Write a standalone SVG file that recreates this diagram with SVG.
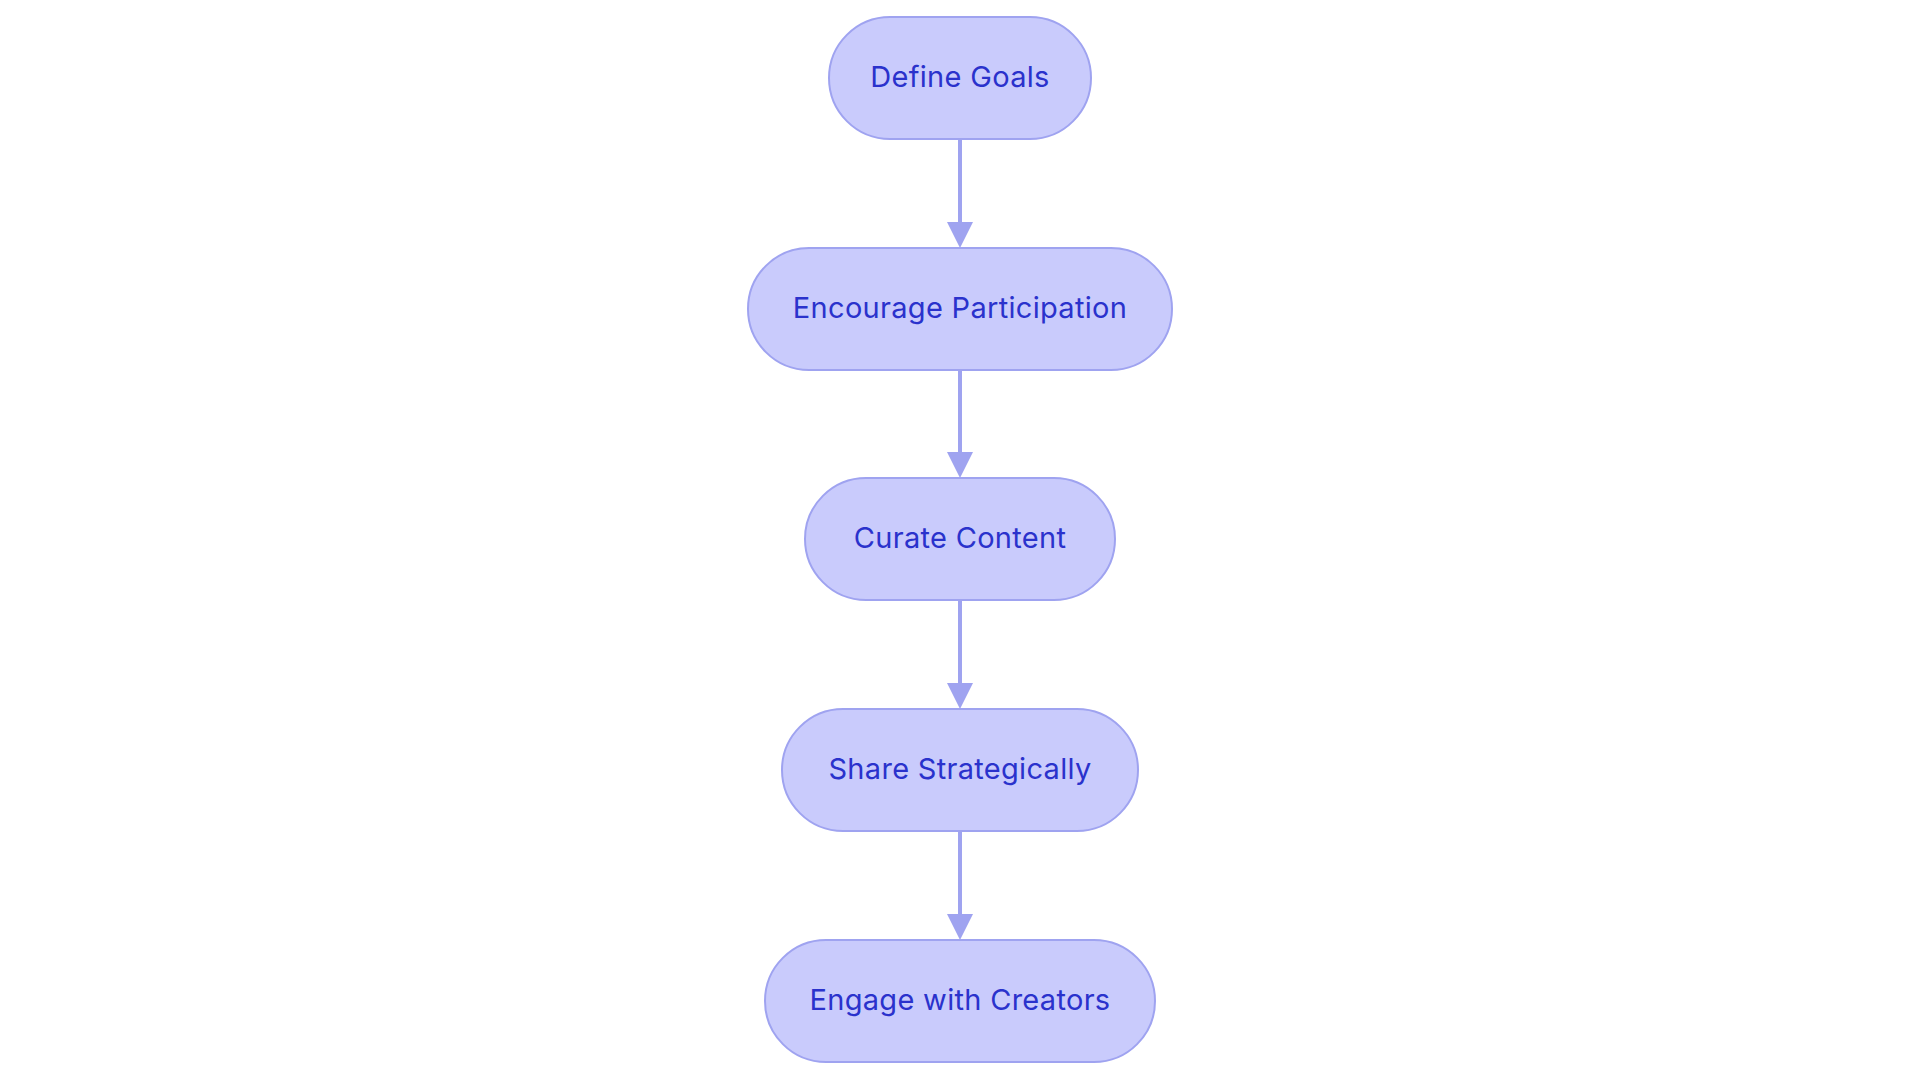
<svg xmlns="http://www.w3.org/2000/svg" width="1920" height="1083" viewBox="0 0 1920 1083">
<style>
.node rect{fill:#C9CBFC;stroke:#9FA3F0;stroke-width:2}
.node text{font-family:Inter,"Noto Sans",sans-serif;font-size:29px;fill:#2A32CC;text-anchor:middle;letter-spacing:0.3px}
.edge line{stroke:#9FA3F0;stroke-width:4}
.edge polygon{fill:#9FA3F0}
</style>
<rect width="1920" height="1083" fill="#FFFFFF"/>
<g id="connectors" class="edge">
<line x1="960" y1="139" x2="960" y2="223"/><polygon points="947,222 973,222 960,248"/>
<line x1="960" y1="370" x2="960" y2="453"/><polygon points="947,452 973,452 960,478"/>
<line x1="960" y1="600" x2="960" y2="684"/><polygon points="947,683 973,683 960,709"/>
<line x1="960" y1="831" x2="960" y2="915"/><polygon points="947,914 973,914 960,940"/>
</g>
<g id="node-define-goals" class="node"><rect x="829" y="17" width="262" height="122" rx="61"/><text x="960" y="86.5">Define Goals</text></g>
<g id="node-encourage-participation" class="node"><rect x="748" y="248" width="424" height="122" rx="61"/><text x="960" y="317.5">Encourage Participation</text></g>
<g id="node-curate-content" class="node"><rect x="805" y="478" width="310" height="122" rx="61"/><text x="960" y="547.5">Curate Content</text></g>
<g id="node-share-strategically" class="node"><rect x="782" y="709" width="356" height="122" rx="61"/><text x="960" y="778.5">Share Strategically</text></g>
<g id="node-engage-with-creators" class="node"><rect x="765" y="940" width="390" height="122" rx="61"/><text x="960" y="1009.5">Engage with Creators</text></g>
</svg>
